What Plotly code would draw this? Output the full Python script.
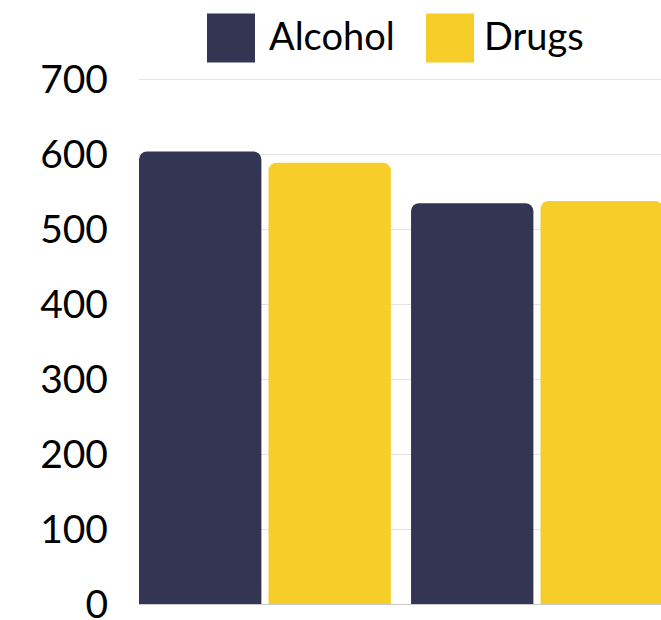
import plotly.graph_objects as go

categories = [0, 1]
series_names = ["Alcohol", "Drugs"]
alcohol = [604, 535]
drugs = [589, 538]
y_ticks = [0, 100, 200, 300, 400, 500, 600, 700]

colors = {"Alcohol": "#333652", "Drugs": "#F7CD2A"}
FONT = "Lato"

W, H = 661, 620
Y_MAX = 702
BASE = 604          # pixel of y=0
TOP700 = 79         # pixel of y=700
PH = (BASE - TOP700) * Y_MAX / 700
ML, MR = 139, 0
MT = BASE - PH
MB = H - BASE
PW = W - ML - MR


def px_x(p):
    return (p - ML) / PW


def px_y(q):
    return (BASE - q) / PH


fig = go.Figure()
for name, vals in zip(series_names, [alcohol, drugs]):
    fig.add_trace(go.Bar(
        x=categories, y=vals, name=name,
        marker=dict(color=colors[name], cornerradius=8, line=dict(width=0)),
        showlegend=False,
    ))

# custom legend (large square swatches)
legend_items = [(series_names[0], 207, 255, 267), (series_names[1], 426, 474, 482)]
for name, x0, x1, tx in legend_items:
    fig.add_shape(type="rect", xref="paper", yref="paper",
                  x0=px_x(x0), x1=px_x(x1), y0=px_y(62), y1=px_y(13),
                  fillcolor=colors[name], line=dict(width=0), layer="above")
    fig.add_annotation(text=name, xref="paper", yref="paper",
                       x=px_x(tx), y=px_y(34), xanchor="left", yanchor="middle",
                       showarrow=False, font=dict(family=FONT, size=38, color="#000000"))

fig.update_layout(
    width=W, height=H,
    margin=dict(l=ML, r=MR, t=MT, b=MB, pad=0, autoexpand=False),
    barmode="group", bargap=0.048, bargroupgap=0.055,
    plot_bgcolor="white", paper_bgcolor="white",
    font=dict(family=FONT, size=38, color="#000000"),
    showlegend=False,
)
fig.update_xaxes(range=[-0.463, 1.456], showticklabels=False, showgrid=False,
                 zeroline=False, showline=False, fixedrange=True, automargin=False)
fig.update_yaxes(range=[0, Y_MAX], tickvals=y_ticks, ticktext=[str(v) for v in y_ticks],
                 showgrid=True, gridcolor="#E3E3E3", gridwidth=1,
                 zeroline=True, zerolinecolor="#C8C8C8", zerolinewidth=1,
                 showline=False, ticks="", ticklabelstandoff=30,
                 ticklabeloverflow="allow", automargin=False, fixedrange=True,
                 tickfont=dict(family=FONT, size=39, color="#000000"))

fig.write_html(
    "out.html",
    config={"displayModeBar": False, "staticPlot": True},
    post_script="document.body.style.margin='0';document.body.style.overflow='hidden';",
)
